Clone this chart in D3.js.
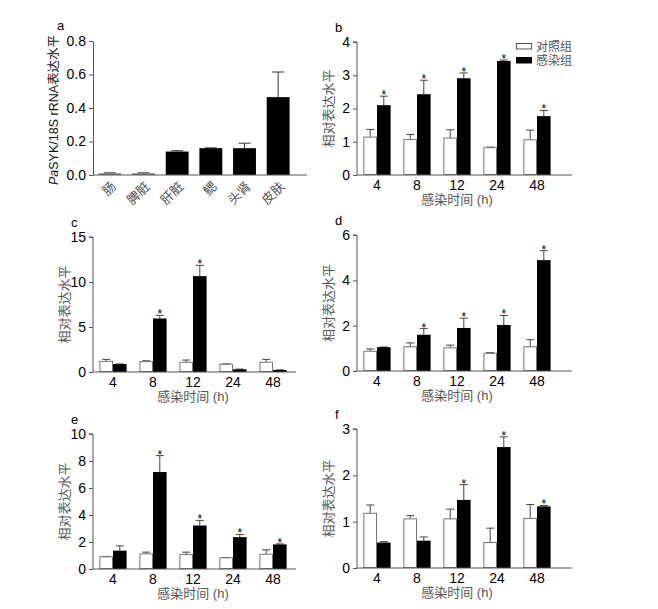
<!DOCTYPE html>
<html>
<head>
<meta charset="utf-8">
<script src="https://cdn.jsdelivr.net/npm/d3@7"></script>
<style>
  body { margin: 0; background: #fff; }
  text { font-family: "Liberation Sans", Arial, "Noto Sans CJK SC", sans-serif; }
</style>
</head>
<body>
<svg id="chart" width="658" height="609"></svg>
<script>
// panel a: tissue distribution
const tissues = ["肠", "脾脏", "肝脏", "鳃", "头肾", "皮肤"];
const tissueValues = [0.01, 0.01, 0.14, 0.16, 0.16, 0.465];
const tissueErr = [0.003, 0.003, 0.005, 0.002, 0.03, 0.15];

// panels b-f: time course
const times = ["4", "8", "12", "24", "48"];
const groups = ["对照组", "感染组"];

const bCtrl = [1.14, 1.07, 1.11, 0.82, 1.06];
const bCtrlErr = [0.23, 0.15, 0.25, 0.02, 0.29];
const bInf = [2.1, 2.43, 2.91, 3.43, 1.77];
const bInfErr = [0.27, 0.42, 0.16, 0.03, 0.17];
const bStar = [1, 1, 1, 1, 1];

const cCtrl = [1.18, 1.15, 1.08, 0.85, 1.08];
const cCtrlErr = [0.22, 0.1, 0.25, 0.05, 0.32];
const cInf = [0.88, 5.95, 10.65, 0.3, 0.22];
const cInfErr = [0.02, 0.35, 1.2, 0.02, 0.02];
const cStar = [0, 1, 1, 0, 0];

const dCtrl = [0.87, 1.07, 1.02, 0.78, 1.07];
const dCtrlErr = [0.1, 0.17, 0.12, 0.03, 0.31];
const dInf = [1.05, 1.6, 1.9, 2.03, 4.89];
const dInfErr = [0.01, 0.27, 0.43, 0.42, 0.42];
const dStar = [0, 1, 1, 1, 1];

const eCtrl = [0.9, 1.12, 1.08, 0.83, 1.09];
const eCtrlErr = [0.03, 0.13, 0.17, 0.02, 0.33];
const eInf = [1.36, 7.18, 3.22, 2.36, 1.82];
const eInfErr = [0.35, 1.22, 0.38, 0.2, 0.04];
const eStar = [0, 1, 1, 1, 1];

const fCtrl = [1.18, 1.06, 1.06, 0.55, 1.07];
const fCtrlErr = [0.18, 0.07, 0.21, 0.31, 0.3];
const fInf = [0.55, 0.59, 1.47, 2.61, 1.33];
const fInfErr = [0.02, 0.08, 0.33, 0.22, 0.02];
const fStar = [0, 0, 1, 1, 1];

const svg = d3.select("#chart");
const axisColor = "#555";
const labelColor = "#555";

function styleAxis(g) {
  g.selectAll("path, line").attr("stroke", axisColor);
  g.selectAll("text").attr("fill", "#000").style("font-size", "14px");
}

// panel a
(function() {
  const x0 = 93, yTop = 41, yBot = 175;
  const x = d3.scaleBand().domain(tissues).range([x0, 295]).paddingInner(0.32).paddingOuter(0.16);
  const y = d3.scaleLinear().domain([0, 0.8]).range([yBot, yTop]);
  const g = svg.append("g");

  g.selectAll(".err").data(tissues).enter().append("line")
    .attr("x1", d => x(d) + x.bandwidth() / 2)
    .attr("x2", d => x(d) + x.bandwidth() / 2)
    .attr("y1", (d, i) => y(tissueValues[i]))
    .attr("y2", (d, i) => y(tissueValues[i] + tissueErr[i]))
    .attr("stroke", "#333");
  g.selectAll(".cap").data(tissues).enter().append("line")
    .attr("x1", d => x(d) + x.bandwidth() / 2 - 6)
    .attr("x2", d => x(d) + x.bandwidth() / 2 + 6)
    .attr("y1", (d, i) => y(tissueValues[i] + tissueErr[i]))
    .attr("y2", (d, i) => y(tissueValues[i] + tissueErr[i]))
    .attr("stroke", "#333");
  g.selectAll("rect").data(tissues).enter().append("rect")
    .attr("x", d => x(d))
    .attr("width", x.bandwidth())
    .attr("y", (d, i) => y(tissueValues[i]))
    .attr("height", (d, i) => yBot - y(tissueValues[i]))
    .attr("fill", (d, i) => i < 2 ? "#777" : "#000");

  const ya = g.append("g").attr("transform", `translate(${x0},0)`)
    .call(d3.axisLeft(y).tickValues([0, 0.2, 0.4, 0.6, 0.8]).tickFormat(d3.format(".1f")).tickSize(4).tickSizeOuter(0));
  styleAxis(ya);
  g.append("line").attr("x1", x0).attr("x2", 307).attr("y1", yBot).attr("y2", yBot).attr("stroke", axisColor);

  g.selectAll(".xl").data(tissues).enter().append("text")
    .attr("transform", d => `translate(${x(d) + x.bandwidth() / 2 + 4},${yBot + 9}) rotate(-45)`)
    .attr("text-anchor", "end")
    .attr("dy", "0.35em")
    .style("font-size", "13px")
    .attr("fill", labelColor)
    .text(d => d);

  const yl = g.append("text")
    .attr("transform", `translate(58,${(yTop + yBot) / 2 + 2}) rotate(-90)`)
    .attr("text-anchor", "middle")
    .style("font-size", "12.5px")
    .attr("fill", "#111");
  yl.append("tspan").attr("font-style", "italic").text("Pa");
  yl.append("tspan").text("SYK/18S rRNA表达水平");

  g.append("text").attr("x", 57).attr("y", 30).style("font-size", "13px").text("a");
})();

function timePanel(opt) {
  const { x0, xEnd, yTop, yBot, max, ticks, ctrl, ctrlErr, inf, infErr, star, label, legend } = opt;
  const x = d3.scaleBand().domain(times).range([x0, x0 + 200]).paddingInner(0.32).paddingOuter(0.16);
  const sub = d3.scaleBand().domain(groups).range([0, x.bandwidth()]);
  const y = d3.scaleLinear().domain([0, max]).range([yBot, yTop]);
  const g = svg.append("g");

  const rows = [];
  times.forEach((t, i) => {
    rows.push({ t, grp: groups[0], v: ctrl[i], e: ctrlErr[i], s: 0 });
    rows.push({ t, grp: groups[1], v: inf[i], e: infErr[i], s: star[i] });
  });
  const cx = d => x(d.t) + sub(d.grp) + sub.bandwidth() / 2;

  g.selectAll(".err").data(rows).enter().append("line")
    .attr("x1", cx).attr("x2", cx)
    .attr("y1", d => y(d.v))
    .attr("y2", d => y(d.v + d.e))
    .attr("stroke", "#444");
  g.selectAll(".cap").data(rows).enter().append("line")
    .attr("x1", d => cx(d) - 4).attr("x2", d => cx(d) + 4)
    .attr("y1", d => y(d.v + d.e))
    .attr("y2", d => y(d.v + d.e))
    .attr("stroke", "#444");
  g.selectAll("rect").data(rows).enter().append("rect")
    .attr("x", d => x(d.t) + sub(d.grp) + (d.grp === groups[0] ? 0.5 : 0))
    .attr("width", d => sub.bandwidth() - (d.grp === groups[0] ? 1 : 0))
    .attr("y", d => y(d.v))
    .attr("height", d => yBot - y(d.v) - (d.grp === groups[0] ? 0.5 : 0))
    .attr("fill", d => d.grp === groups[0] ? "#fff" : "#000")
    .attr("stroke", d => d.grp === groups[0] ? "#777" : "none");
  g.selectAll(".star").data(rows.filter(d => d.s)).enter().append("text")
    .attr("x", cx)
    .attr("y", d => y(d.v + d.e) + 3)
    .attr("text-anchor", "middle")
    .style("font-size", "12px")
    .text("*");

  const ya = g.append("g").attr("transform", `translate(${x0},0)`)
    .call(d3.axisLeft(y).tickValues(ticks).tickFormat(d3.format("d")).tickSize(4).tickSizeOuter(0));
  styleAxis(ya);
  ya.select(".domain").attr("d", `M-4,${yTop}H0V${yBot}`);
  const xa = g.append("g").attr("transform", `translate(0,${yBot})`)
    .call(d3.axisBottom(x).tickSize(0).tickPadding(5));
  styleAxis(xa);
  xa.select(".domain").remove();
  g.append("line").attr("x1", x0).attr("x2", xEnd).attr("y1", yBot).attr("y2", yBot).attr("stroke", axisColor);

  g.append("text")
    .attr("x", x0 + 100).attr("y", yBot + 29)
    .attr("text-anchor", "middle")
    .style("font-size", "13px")
    .attr("fill", labelColor)
    .text("感染时间 (h)");
  g.append("text")
    .attr("transform", `translate(${x0 - 24},${(yTop + yBot) / 2}) rotate(-90)`)
    .attr("text-anchor", "middle")
    .style("font-size", "13px")
    .attr("fill", labelColor)
    .text("相对表达水平");
  g.append("text").attr("x", x0 - 22).attr("y", yTop - 10).style("font-size", "13px").text(label);

  if (legend) {
    const lg = g.append("g");
    groups.forEach((grp, i) => {
      lg.append("rect")
        .attr("x", 516.5).attr("y", 43.5 + i * 14)
        .attr("width", 15).attr("height", 5.5)
        .attr("fill", i ? "#000" : "#fff")
        .attr("stroke", i ? "#000" : "#555");
      lg.append("text")
        .attr("x", 536).attr("y", 51 + i * 14)
        .style("font-size", "12px")
        .attr("fill", labelColor)
        .text(grp);
    });
  }
}

timePanel({ x0: 357, xEnd: 572, yTop: 42, yBot: 175, max: 4, ticks: [0, 1, 2, 3, 4],
  ctrl: bCtrl, ctrlErr: bCtrlErr, inf: bInf, infErr: bInfErr, star: bStar, label: "b", legend: true });
timePanel({ x0: 93, xEnd: 296, yTop: 237, yBot: 372, max: 15, ticks: [0, 5, 10, 15],
  ctrl: cCtrl, ctrlErr: cCtrlErr, inf: cInf, infErr: cInfErr, star: cStar, label: "c" });
timePanel({ x0: 357, xEnd: 572, yTop: 235, yBot: 371, max: 6, ticks: [0, 2, 4, 6],
  ctrl: dCtrl, ctrlErr: dCtrlErr, inf: dInf, infErr: dInfErr, star: dStar, label: "d" });
timePanel({ x0: 93, xEnd: 296, yTop: 434, yBot: 569, max: 10, ticks: [0, 2, 4, 6, 8, 10],
  ctrl: eCtrl, ctrlErr: eCtrlErr, inf: eInf, infErr: eInfErr, star: eStar, label: "e" });
timePanel({ x0: 357, xEnd: 572, yTop: 429, yBot: 568, max: 3, ticks: [0, 1, 2, 3],
  ctrl: fCtrl, ctrlErr: fCtrlErr, inf: fInf, infErr: fInfErr, star: fStar, label: "f" });
</script>
</body>
</html>
